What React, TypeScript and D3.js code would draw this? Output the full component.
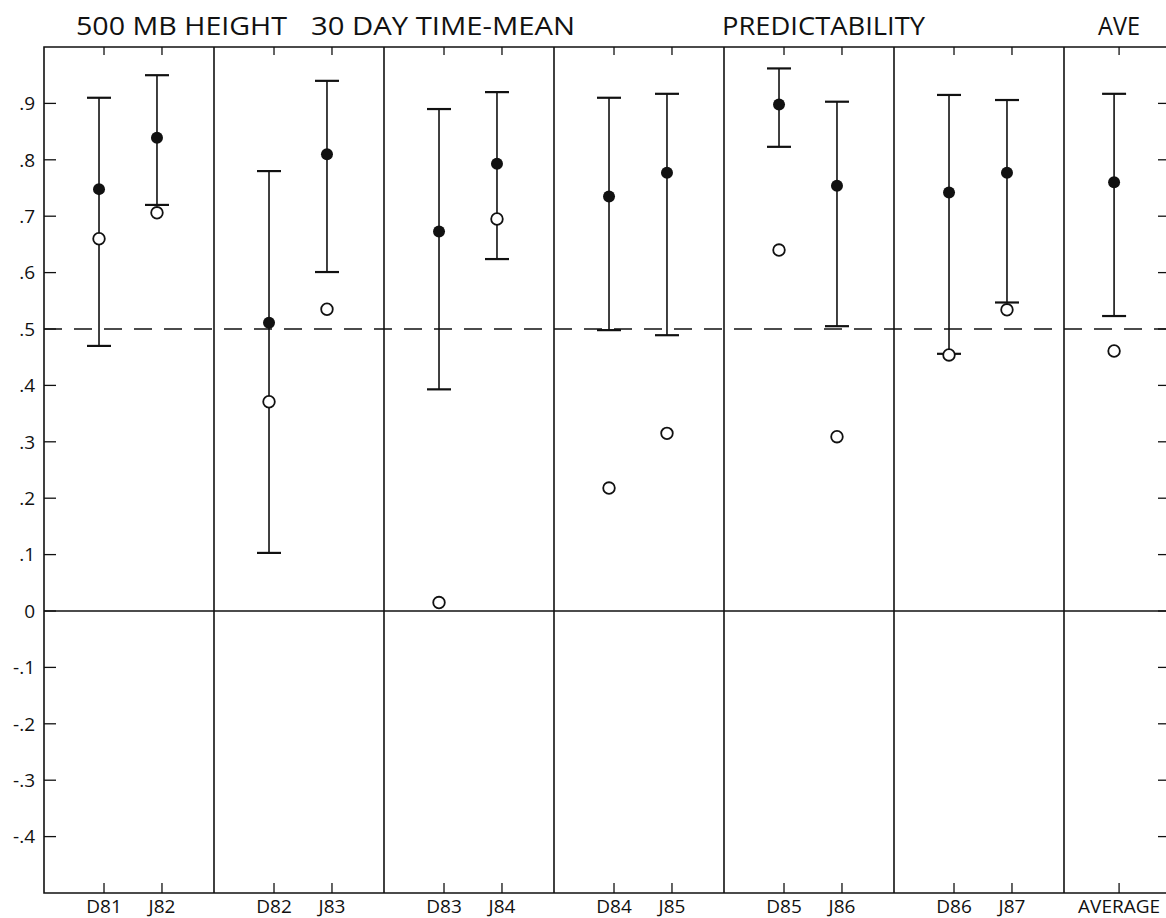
import { useEffect, useRef } from 'react';
import * as d3 from 'd3';

// seasons (Dec / Jan cases) plus the average
const categories = ['D81', 'J82', 'D82', 'J83', 'D83', 'J84', 'D84', 'J85', 'D85', 'J86', 'D86', 'J87', 'AVERAGE'];
const panel = [0, 0, 1, 1, 2, 2, 3, 3, 4, 4, 5, 5, 6];
const slot = [0, 1, 0, 1, 0, 1, 0, 1, 0, 1, 0, 1, 2];

// error bar limits and point values
const upper = [0.91, 0.95, 0.78, 0.94, 0.89, 0.92, 0.91, 0.917, 0.962, 0.903, 0.915, 0.906, 0.917];
const filled = [0.748, 0.839, 0.511, 0.81, 0.673, 0.793, 0.735, 0.777, 0.898, 0.754, 0.742, 0.777, 0.76];
const lower = [0.47, 0.72, 0.103, 0.601, 0.393, 0.624, 0.498, 0.489, 0.823, 0.505, 0.456, 0.547, 0.523];
const open = [0.66, 0.706, 0.371, 0.535, 0.015, 0.695, 0.218, 0.315, 0.64, 0.309, 0.454, 0.534, 0.461];

const yTicks = [-0.4, -0.3, -0.2, -0.1, 0, 0.1, 0.2, 0.3, 0.4, 0.5, 0.6, 0.7, 0.8, 0.9];
const yTickLabels = ['-.4', '-.3', '-.2', '-.1', '0', '.1', '.2', '.3', '.4', '.5', '.6', '.7', '.8', '.9'];

const titleParts = [
  { text: '500 MB HEIGHT', x0: 76, x1: 287 },
  { text: '30 DAY TIME-MEAN', x0: 311, x1: 575 },
  { text: 'PREDICTABILITY', x0: 722, x1: 925 },
  { text: 'AVE', x0: 1098, x1: 1140 },
];

export default function App() {
  const svgRef = useRef<SVGSVGElement>(null);

  useEffect(() => {
    const width = 1166;
    const height = 918;
    const svg = d3.select(svgRef.current);
    svg.selectAll('*').remove();
    svg.attr('width', width).attr('height', height);

    const font = '"Open Sans", "Liberation Sans", sans-serif';
    const ink = '#111';
    const left = 44;
    const top = 47;
    const bottom = 893;
    const right = 1168;

    const y = d3.scaleLinear().domain([-0.5, 1.0]).range([bottom, top]);
    const px = d3.scaleLinear().domain([0, 6]).range([left, 1064]);
    const slotOffset = [0.353, 0.694, 0.324];
    const xOf = (i: number) => px(panel[i] + slotOffset[slot[i]]);
    const markShift = -5;

    svg.append('rect').attr('width', width).attr('height', height).attr('fill', '#fff');

    // frame
    const frame = svg.append('g').attr('stroke', ink).attr('stroke-width', 1.6).attr('fill', 'none');
    frame.append('path').attr('d', `M${right},${top}H${left}V${bottom}H${right}`);

    // panel dividers
    d3.range(1, 7).forEach((p) => {
      frame.append('line').attr('x1', px(p)).attr('x2', px(p)).attr('y1', top).attr('y2', bottom);
    });

    // zero line and dashed 0.5 line
    frame.append('line').attr('x1', left).attr('x2', right).attr('y1', y(0)).attr('y2', y(0));
    frame
      .append('line')
      .attr('x1', left)
      .attr('x2', right)
      .attr('y1', y(0.5))
      .attr('y2', y(0.5))
      .attr('stroke-width', 1.4)
      .attr('stroke-dasharray', '18,12');

    // y ticks, left and right
    yTicks.forEach((t, i) => {
      frame.append('line').attr('x1', left).attr('x2', left + 12).attr('y1', y(t)).attr('y2', y(t)).attr('stroke-width', 1.3);
      frame.append('line').attr('x1', width - 8).attr('x2', width).attr('y1', y(t)).attr('y2', y(t)).attr('stroke-width', 1.3);
      svg
        .append('text')
        .attr('x', 35)
        .attr('y', y(t))
        .attr('dy', '0.36em')
        .attr('text-anchor', 'end')
        .attr('font-family', font)
        .attr('font-size', 19)
        .attr('fill', ink)
        .text(yTickLabels[i]);
    });

    // category ticks top and bottom + labels
    categories.forEach((c, i) => {
      const cx = xOf(i);
      frame.append('line').attr('x1', cx).attr('x2', cx).attr('y1', top).attr('y2', top + 8).attr('stroke-width', 1.3);
      frame.append('line').attr('x1', cx).attr('x2', cx).attr('y1', bottom).attr('y2', bottom - 10).attr('stroke-width', 1.3);
      svg
        .append('text')
        .attr('x', cx)
        .attr('y', 913)
        .attr('text-anchor', 'middle')
        .attr('font-family', font)
        .attr('font-size', 19)
        .attr('fill', ink)
        .text(c);
    });

    // title
    titleParts.forEach((t) => {
      svg
        .append('text')
        .attr('x', t.x0)
        .attr('y', 35)
        .attr('font-family', font)
        .attr('font-size', 26)
        .attr('fill', ink)
        .attr('textLength', t.x1 - t.x0)
        .attr('lengthAdjust', 'spacingAndGlyphs')
        .text(t.text);
    });

    // error bars
    const bars = svg.append('g').attr('stroke', ink).attr('fill', 'none');
    categories.forEach((_, i) => {
      const cx = xOf(i) + markShift;
      bars.append('line').attr('x1', cx).attr('x2', cx).attr('y1', y(upper[i])).attr('y2', y(lower[i])).attr('stroke-width', 1.6);
      [upper[i], lower[i]].forEach((v) => {
        bars.append('line').attr('x1', cx - 12).attr('x2', cx + 12).attr('y1', y(v)).attr('y2', y(v)).attr('stroke-width', 2.2);
      });
    });

    // open circles
    svg
      .append('g')
      .selectAll('circle')
      .data(open)
      .join('circle')
      .attr('cx', (_, i) => xOf(i) + markShift)
      .attr('cy', (d) => y(d))
      .attr('r', 5.8)
      .attr('fill', '#fff')
      .attr('stroke', ink)
      .attr('stroke-width', 1.8);

    // filled dots
    svg
      .append('g')
      .selectAll('circle')
      .data(filled)
      .join('circle')
      .attr('cx', (_, i) => xOf(i) + markShift)
      .attr('cy', (d) => y(d))
      .attr('r', 6)
      .attr('fill', ink);
  }, []);

  return <svg ref={svgRef} style={{ position: 'absolute', left: 0, top: 0 }}></svg>;
}
